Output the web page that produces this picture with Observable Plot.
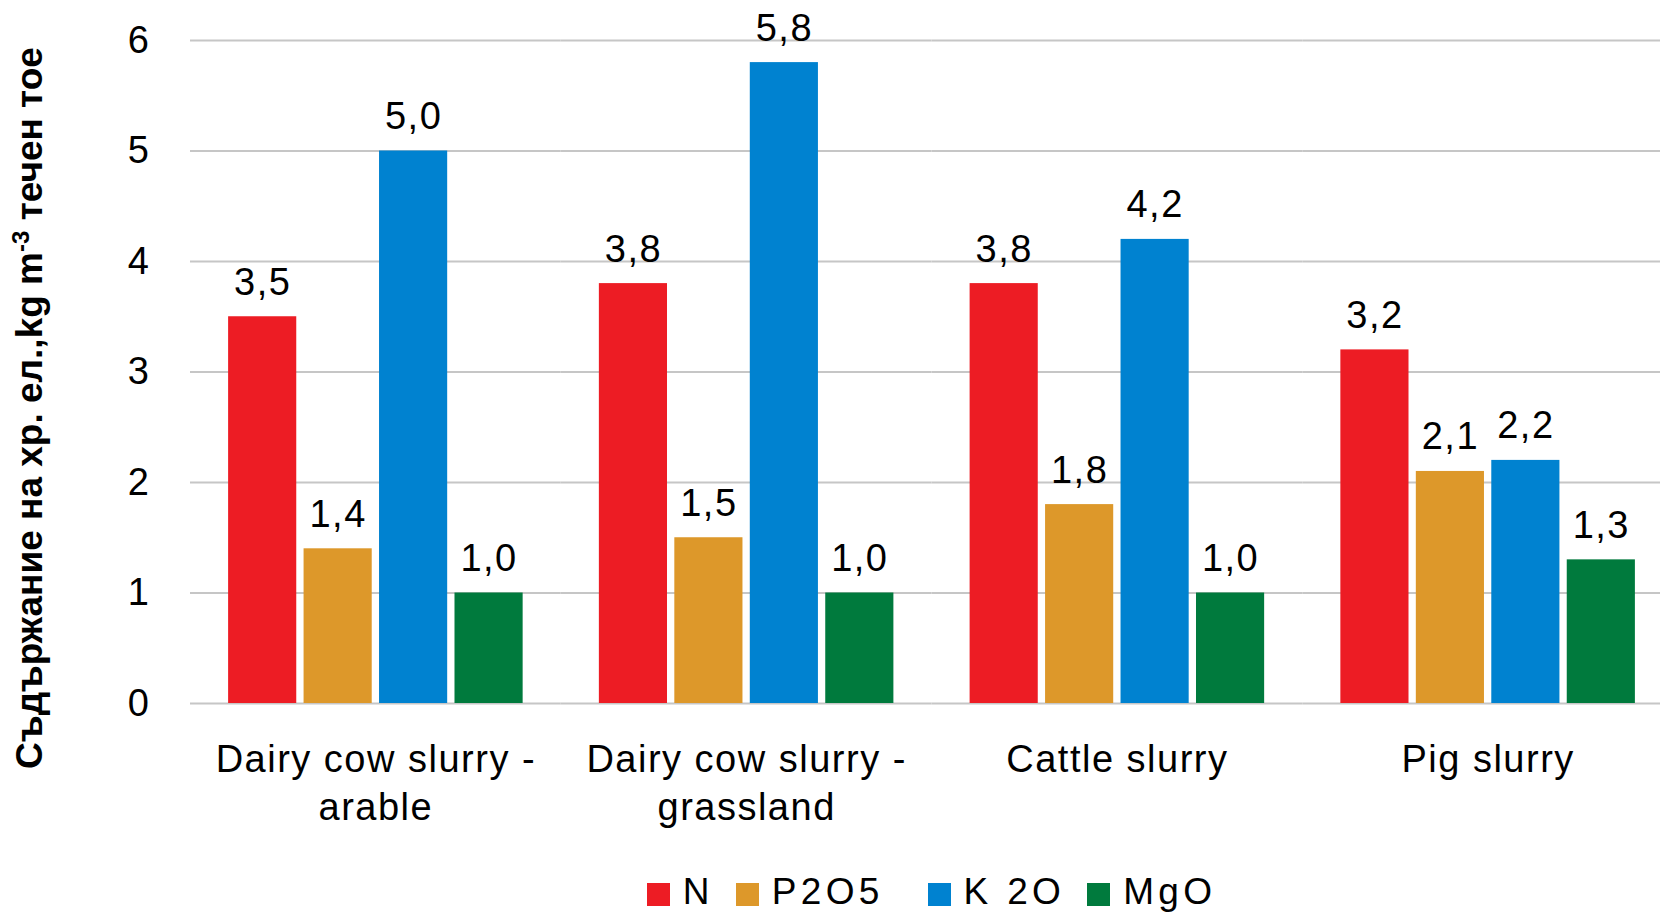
<!DOCTYPE html>
<html>
<head>
<meta charset="utf-8">
<script src="https://cdn.jsdelivr.net/npm/d3@7"></script>
<script src="https://cdn.jsdelivr.net/npm/@observablehq/plot@0.6"></script>
<style>
  html, body { margin: 0; padding: 0; background: #fff; overflow: hidden; }
  #wrap { position: relative; width: 1660px; height: 914px; overflow: hidden; font-family: "Liberation Sans", Arial, sans-serif; }
  #chart svg { max-width: none !important; }
  #ytitle { position: absolute; left: 29px; top: 408px; transform: translate(-50%, -50%) rotate(-90deg); white-space: nowrap;
    font-weight: bold; font-size: 37px; color: #000; }
  #ytitle sup { font-size: 24px; }
  #legend { position: absolute; left: 190px; width: 1483px; top: 874px; height: 36px; line-height: 36px; display: flex; justify-content: center; align-items: center;
    font-size: 37px; letter-spacing: 4.3px; color: #000; }
  .item { display: flex; align-items: center; margin: 0 11px; }
  .item:nth-child(2) { margin-right: 33px; }
  .sw { width: 23px; height: 23px; margin-right: 13px; transform: translateY(2px); }
</style>
</head>
<body>
<div id="wrap">
  <div id="chart"></div>
  <div id="ytitle">Съдържание на хр. ел.,kg m<sup>-3</sup> течен тое</div>
  <div id="legend"></div>
</div>
<script>
const groups = ["Dairy cow slurry - arable", "Dairy cow slurry - grassland", "Cattle slurry", "Pig slurry"];
const groupLabels = ["Dairy cow slurry -\narable", "Dairy cow slurry -\ngrassland", "Cattle slurry", "Pig slurry"];
const nutrients = ["N", "P2O5", "K 2O", "MgO"];
const colors = ["#ED1C24", "#DD982A", "#0082D0", "#007A3D"];
const valuesN = [3.5, 3.8, 3.8, 3.2];
const valuesP2O5 = [1.4, 1.5, 1.8, 2.1];
const valuesK2O = [5.0, 5.8, 4.2, 2.2];
const valuesMgO = [1.0, 1.0, 1.0, 1.3];
const yTicks = [0, 1, 2, 3, 4, 5, 6];

const series = [valuesN, valuesP2O5, valuesK2O, valuesMgO];
const data = [];
groups.forEach((g, gi) => {
  nutrients.forEach((n, ni) => {
    data.push({group: g, nutrient: n, value: series[ni][gi]});
  });
});
const fmt = v => v.toFixed(1).replace(".", ",");
const labelOf = g => groupLabels[groups.indexOf(g)];

const chart = Plot.plot({
  width: 1673,
  height: 860,
  marginLeft: 190,
  marginRight: 0,
  marginTop: 40,
  marginBottom: 157,
  style: {fontFamily: "'Liberation Sans', Arial, sans-serif", fontSize: "38px", color: "#000", letterSpacing: "1.5px", background: "#fff", maxWidth: "none"},
  fx: {domain: groups, padding: 0, round: false, label: null},
  x: {domain: nutrients, paddingInner: 0.097, paddingOuter: 0.505, round: false, axis: null},
  y: {domain: [0, 6], label: null},
  color: {domain: nutrients, range: colors},
  marks: [
    Plot.gridY(yTicks, {stroke: "#c6c6c6", strokeOpacity: 1, strokeWidth: 2}),
    Plot.axisY(yTicks, {tickSize: 0, tickPadding: 40, label: null, tickFormat: d => String(d)}),
    Plot.axisFx({anchor: "bottom", tickSize: 0, tickPadding: 35, lineHeight: 1.25, label: null, tickFormat: labelOf}),
    Plot.barY(data, {fx: "group", x: "nutrient", y: "value", fill: "nutrient"}),
    Plot.text(data, {fx: "group", x: "nutrient", y: "value", text: d => fmt(d.value), lineAnchor: "bottom", dy: -22, fill: "#000"})
  ]
});
document.getElementById("chart").appendChild(chart);

const legend = document.getElementById("legend");
nutrients.forEach((n, i) => {
  const it = document.createElement("div");
  it.className = "item";
  const sw = document.createElement("div");
  sw.className = "sw";
  sw.style.background = colors[i];
  const t = document.createElement("span");
  t.textContent = n;
  it.appendChild(sw);
  it.appendChild(t);
  legend.appendChild(it);
});
</script>
</body>
</html>
